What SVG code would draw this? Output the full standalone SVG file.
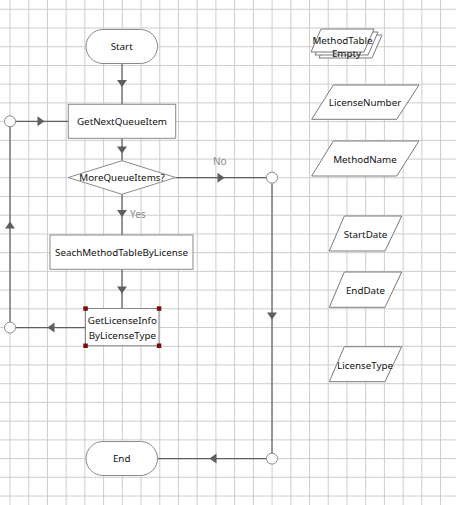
<svg xmlns="http://www.w3.org/2000/svg" width="456" height="505" viewBox="0 0 456 505">
<style>
.grid{stroke:#cdcdcd;stroke-width:1;fill:none}
.node{fill:#ffffff;stroke:#8a8a8a;stroke-width:1}
.data{fill:#ffffff;stroke:#7a7a7a;stroke-width:1}
.conn{stroke:#5e5e5e;stroke-width:1.2;fill:none}
.arr{fill:#5e5e5e}
.junc{fill:#ffffff;stroke:#8a8a8a;stroke-width:1}
.handle{fill:#7a0c0c}
text{font-family:"Noto Sans","Open Sans","Liberation Sans",sans-serif;font-size:9.8px;fill:#111111;text-anchor:middle;dominant-baseline:central}
text.lbl{fill:#8c8c8c;text-anchor:start;font-size:10px}
</style>
<defs>
<path id="tri" d="M-3.5,-5 L3.5,0 L-3.5,5 Z"/>
</defs>
<rect x="0" y="0" width="456" height="505" fill="#ffffff"/>
<g id="grid" class="grid">
<path d="M10,0V505M28.72,0V505M47.44,0V505M66.16,0V505M84.88,0V505M103.6,0V505M122.32,0V505M141.04,0V505M159.76,0V505M178.48,0V505M197.2,0V505M215.92,0V505M234.64,0V505M253.36,0V505M272.08,0V505M290.8,0V505M309.52,0V505M328.24,0V505M346.96,0V505M365.68,0V505M384.4,0V505M403.12,0V505M421.84,0V505M440.56,0V505"/>
<path d="M0,9.3H456M0,28.02H456M0,46.74H456M0,65.46H456M0,84.18H456M0,102.9H456M0,121.62H456M0,140.34H456M0,159.06H456M0,177.78H456M0,196.5H456M0,215.22H456M0,233.94H456M0,252.66H456M0,271.38H456M0,290.1H456M0,308.82H456M0,327.54H456M0,346.26H456M0,364.98H456M0,383.7H456M0,402.42H456M0,421.14H456M0,439.86H456M0,458.58H456M0,477.3H456M0,496.02H456"/>
</g>
<g id="connectors">
<path class="conn" d="M122,63.5V104.3"/>
<path class="conn" d="M122,138.3V160.7"/>
<path class="conn" d="M122,194.3V235"/>
<path class="conn" d="M122,269.3V308.5"/>
<path class="conn" d="M175.7,177.7H266.5"/>
<path class="conn" d="M272,183.2V453"/>
<path class="conn" d="M266.5,458.6H157.5"/>
<path class="conn" d="M85.5,327.6H15.5"/>
<path class="conn" d="M10,322.1V126.8"/>
<path class="conn" d="M15.5,121.3H68.3"/>
<use href="#tri" class="arr" transform="translate(122,83.5) rotate(90)"/>
<use href="#tri" class="arr" transform="translate(122,150) rotate(90)"/>
<use href="#tri" class="arr" transform="translate(122,213.5) rotate(90)"/>
<use href="#tri" class="arr" transform="translate(122,290) rotate(90)"/>
<use href="#tri" class="arr" transform="translate(221,177.7)"/>
<use href="#tri" class="arr" transform="translate(272,316) rotate(90)"/>
<use href="#tri" class="arr" transform="translate(213,458.6) rotate(180)"/>
<use href="#tri" class="arr" transform="translate(51,327.6) rotate(180)"/>
<use href="#tri" class="arr" transform="translate(10,225) rotate(-90)"/>
<use href="#tri" class="arr" transform="translate(41,121.3)"/>
<circle class="junc" cx="272" cy="177.7" r="5.5"/>
<circle class="junc" cx="272" cy="458.6" r="5.5"/>
<circle class="junc" cx="10" cy="327.6" r="5.5"/>
<circle class="junc" cx="10" cy="121.3" r="5.5"/>
<text class="lbl" x="213" y="160.7">No</text>
<text class="lbl" x="130" y="214">Yes</text>
</g>
<g id="start">
<rect class="node" x="86" y="29.5" width="71.5" height="34" rx="17"/>
<text x="121.7" y="46.5">Start</text>
</g>
<g id="getNextQueueItem">
<rect class="node" x="68.3" y="104.3" width="107.4" height="34"/>
<text x="122" y="121.3">GetNextQueueItem</text>
</g>
<g id="moreQueueItems">
<polygon class="node" points="68.3,177.5 122,160.7 175.7,177.5 122,194.3"/>
<text x="122" y="177.7">MoreQueueItems?</text>
</g>
<g id="seachMethodTable">
<rect class="node" x="50" y="235" width="143" height="34.3"/>
<text x="121.5" y="252.3">SeachMethodTableByLicense</text>
</g>
<g id="getLicenseInfo">
<rect class="node" x="85.5" y="308.5" width="73.5" height="37.2"/>
<text x="122.3" y="320.8">GetLicenseInfo</text>
<text x="122.3" y="335">ByLicenseType</text>
<rect class="handle" x="83.3" y="306.3" width="4.5" height="4.5"/>
<rect class="handle" x="156.8" y="306.3" width="4.5" height="4.5"/>
<rect class="handle" x="83.3" y="343.5" width="4.5" height="4.5"/>
<rect class="handle" x="156.8" y="343.5" width="4.5" height="4.5"/>
</g>
<g id="end">
<rect class="node" x="86" y="441.5" width="71.5" height="34" rx="17"/>
<text x="121.7" y="458.6">End</text>
</g>
<g id="methodTableEmpty">
<polygon class="data" points="329,35 382,35 372,58 319,58"/>
<polygon class="data" points="325,32 378,32 368,55 315,55"/>
<polygon class="data" points="321,29 374,29 364,52 311,52"/>
<text x="342.5" y="40">MethodTable</text>
<text x="346.5" y="53.3">Empty</text>
</g>
<g id="licenseNumber">
<polygon class="data" points="333.3,85 419,85 396.7,119.3 311.7,119.3"/>
<text x="365" y="102.5">LicenseNumber</text>
</g>
<g id="methodName">
<polygon class="data" points="333.3,141 419,141 396.7,176 311.7,176"/>
<text x="365" y="159">MethodName</text>
</g>
<g id="startDate">
<polygon class="data" points="344.3,216 401.7,216 385,251 329.3,251"/>
<text x="365.5" y="234">StartDate</text>
</g>
<g id="endDate">
<polygon class="data" points="344.3,272 401.7,272 385,307.3 329.3,307.3"/>
<text x="365.5" y="290.5">EndDate</text>
</g>
<g id="licenseType">
<polygon class="data" points="344.3,346.7 401.7,346.7 385,381.7 329.3,381.7"/>
<text x="365" y="365">LicenseType</text>
</g>
</svg>
